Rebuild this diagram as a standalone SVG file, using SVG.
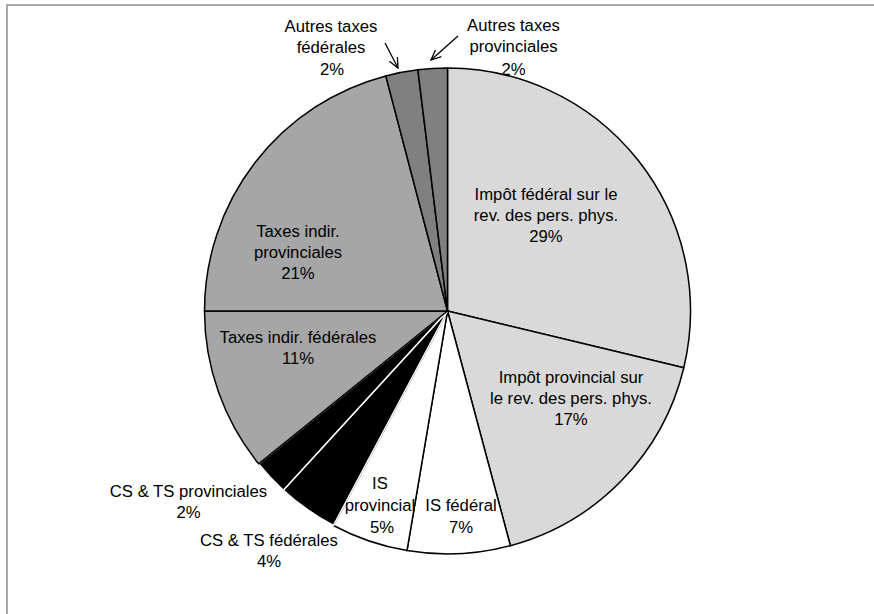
<svg xmlns="http://www.w3.org/2000/svg" width="874" height="614" viewBox="0 0 874 614">
<style>
.sl{stroke:#000;stroke-width:1.5;stroke-linejoin:round}
.blk{fill:#000;stroke:#fff;stroke-width:1.5}
.lbl{font-family:"Liberation Sans",Arial,sans-serif;font-size:16.7px;fill:#000;text-anchor:middle}
.arr{stroke:#000;stroke-width:1.3;fill:none}
</style>
<defs>
<marker id="open" viewBox="0 0 12 10" refX="11" refY="5" markerWidth="12" markerHeight="10" markerUnits="userSpaceOnUse" orient="auto">
<path d="M1,0.5 L11,5 L1,9.5" fill="none" stroke="#000" stroke-width="1.3"/>
</marker>
</defs>
<rect x="7" y="5" width="880" height="620" fill="#fff" stroke="#8c8c8c" stroke-width="1.5"/>
<g id="slice-impot-federal">
<path class="sl" fill="#d9d9d9" d="M447.5,311 L447.5,68 A243,243 0 0 1 683.8,367.7 Z"/>
<text class="lbl" x="546" y="200">Impôt fédéral sur le</text>
<text class="lbl" x="546" y="221">rev. des pers. phys.</text>
<text class="lbl" x="546" y="242">29%</text>
</g>
<g id="slice-impot-provincial">
<path class="sl" fill="#d9d9d9" d="M447.5,311 L683.8,367.7 A243,243 0 0 1 510.4,545.7 Z"/>
<text class="lbl" x="571" y="383">Impôt provincial sur</text>
<text class="lbl" x="571" y="404">le rev. des pers. phys.</text>
<text class="lbl" x="571" y="425">17%</text>
</g>
<g id="slice-is-federal">
<path class="sl" fill="#fff" d="M447.5,311 L510.4,545.7 A243,243 0 0 1 407,550.6 Z"/>
<text class="lbl" x="461" y="511">IS fédéral</text>
<text class="lbl" x="461" y="533">7%</text>
</g>
<g id="slice-is-provincial">
<path class="sl" fill="#fff" d="M447.5,311 L407,550.6 A243,243 0 0 1 333.4,525.5 Z"/>
<text class="lbl" x="380" y="489">IS</text>
<text class="lbl" x="380" y="511">provincial</text>
<text class="lbl" x="382" y="533">5%</text>
</g>
<g id="slice-cs-ts-federales">
<path class="blk" d="M447.5,311 L333.4,525.5 A243,243 0 0 1 283.3,490.2 Z"/>
<text class="lbl" x="269" y="546">CS &amp; TS fédérales</text>
<text class="lbl" x="269" y="567">4%</text>
</g>
<g id="slice-cs-ts-provinciales">
<path class="blk" d="M447.5,311 L283.3,490.2 A243,243 0 0 1 258.7,463.9 Z"/>
<text class="lbl" x="188.5" y="497">CS &amp; TS provinciales</text>
<text class="lbl" x="188.5" y="518">2%</text>
</g>
<g id="slice-taxes-indir-federales">
<path class="sl" fill="#a6a6a6" d="M447.5,311 L258.7,463.9 A243,243 0 0 1 204.5,311 Z"/>
<text class="lbl" x="298" y="343">Taxes indir. fédérales</text>
<text class="lbl" x="298" y="364">11%</text>
</g>
<g id="slice-taxes-indir-provinciales">
<path class="sl" fill="#a6a6a6" d="M447.5,311 L204.5,311 A243,243 0 0 1 385.8,75.9 Z"/>
<text class="lbl" x="298" y="237">Taxes indir.</text>
<text class="lbl" x="298" y="258">provinciales</text>
<text class="lbl" x="298" y="279">21%</text>
</g>
<g id="slice-autres-federales">
<path class="sl" fill="#808080" d="M447.5,311 L385.8,75.9 A243,243 0 0 1 417.9,69.8 Z"/>
<text class="lbl" x="331" y="32">Autres taxes</text>
<text class="lbl" x="331" y="53">fédérales</text>
<text class="lbl" x="332" y="75">2%</text>
</g>
<g id="slice-autres-provinciales">
<path class="sl" fill="#808080" d="M447.5,311 L417.9,69.8 A243,243 0 0 1 447.5,68 Z"/>
<text class="lbl" x="513.5" y="31">Autres taxes</text>
<text class="lbl" x="513.5" y="52">provinciales</text>
<text class="lbl" x="513.5" y="75">2%</text>
</g>
<g id="connectors">
<line class="arr" x1="385" y1="43" x2="398" y2="68" marker-end="url(#open)"/>
<line class="arr" x1="458" y1="36" x2="431" y2="60" marker-end="url(#open)"/>
</g>
</svg>
